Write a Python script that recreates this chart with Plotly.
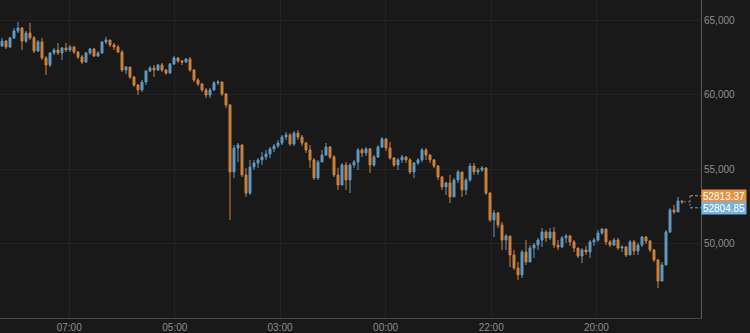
import plotly.graph_objects as go

# ---- data ----
first_open = 63300
close = [63630, 63230, 63840, 64310, 64510, 63630, 64170, 63840, 62960, 63570,
         62490, 62020, 62830, 63030, 62830, 63160, 63030, 63230, 62890, 62560,
         62220, 62830, 63100, 62620, 62830, 63570, 63700, 63370, 63230, 62890,
         61680, 61880, 61210, 60670, 60340, 60870, 61610, 61820, 61680, 62020,
         61680, 61480, 62090, 62490, 62290, 62220, 62420, 61680, 61010, 60740,
         60340, 60000, 60340, 60810, 60870, 60070, 59330, 54820, 56430, 56630,
         54620, 53400, 55150, 55420, 55630, 55830, 56030, 56370, 56570, 56770,
         57170, 57310, 56700, 57440, 57170, 56770, 56300, 55630, 54410, 55490,
         55960, 56500, 55830, 54620, 53940, 55290, 54280, 55290, 55490, 56300,
         56100, 56370, 55290, 55830, 56500, 57040, 56430, 55760, 55290, 55630,
         55830, 55630, 54820, 55420, 55630, 56300, 55960, 55630, 55220, 54480,
         53810, 54080, 53140, 54280, 54820, 53610, 54280, 55220, 54820, 54950,
         55090, 53400, 51590, 52060, 51250, 50240, 50510, 49230, 48360, 47890,
         49430, 48760, 49700, 49900, 50240, 50780, 50380, 50780, 49900, 49770,
         50380, 50510, 50110, 49700, 49160, 49570, 49430, 50110, 50240, 50710,
         50980, 50110, 49900, 50240, 49700, 49770, 49230, 50110, 49500, 49900,
         50440, 50170, 49570, 48900, 47480, 48560, 50780, 52260, 52130, 52870,
         52810]
high = [63840, 63700, 63900, 64510, 64910, 64580, 64310, 64850, 63970, 63700,
        63840, 62620, 62890, 63160, 63500, 63230, 63500, 63370, 63300, 62960,
        62690, 62890, 63160, 63160, 62960, 63630, 63900, 63700, 63500, 63370,
        63030, 61950, 61820, 61280, 60740, 61010, 61680, 61950, 62020, 62090,
        62150, 61750, 62150, 62620, 62560, 62360, 62490, 62560, 61750, 61140,
        60810, 60470, 60470, 60940, 61010, 60940, 60130, 59390, 56630, 56770,
        56700, 55090, 55630, 55630, 55760, 56160, 56300, 56500, 56700, 56970,
        57310, 57510, 57440, 57580, 57640, 57310, 56840, 56630, 55760, 55630,
        56300, 56770, 56570, 55960, 55090, 55420, 55490, 55420, 55630, 56430,
        56430, 56500, 56430, 55960, 56630, 57170, 57110, 56840, 55830, 55760,
        55960, 55890, 55760, 55490, 55760, 56430, 56430, 56030, 55690, 55290,
        54550, 54150, 54620, 54410, 54950, 54820, 54410, 55420, 55420, 55090,
        55220, 55150, 53470, 52260, 52130, 51450, 50640, 50510, 49570, 48760,
        49570, 50240, 49900, 50040, 50380, 51050, 50910, 51050, 51120, 50240,
        50510, 50640, 50580, 50240, 49700, 49700, 49840, 50240, 50380, 50910,
        51050, 50910, 50240, 50380, 50380, 49900, 49840, 50240, 50240, 50040,
        50510, 50510, 50240, 49640, 48960, 48760, 50910, 52400, 52600, 53140,
        52870]
low = [63230, 63100, 63160, 63770, 64170, 63030, 63500, 63700, 62830, 62890,
       62360, 61350, 61880, 62690, 62690, 62360, 62890, 62890, 62760, 62420,
       62090, 62150, 62690, 62560, 62560, 62760, 63430, 63230, 63030, 62830,
       61550, 61410, 61080, 60540, 60000, 60200, 60670, 61550, 61210, 61610,
       61550, 61350, 61410, 62020, 62150, 62020, 62150, 61550, 60870, 60610,
       60200, 59800, 59800, 60270, 60670, 59930, 59130, 51590, 54410, 55490,
       54480, 53140, 53270, 54950, 55090, 55290, 55630, 55760, 56160, 56430,
       56630, 56970, 56570, 56570, 56970, 56570, 56100, 55090, 54280, 54280,
       55490, 55890, 55690, 54480, 53610, 54150, 53610, 53400, 55090, 54950,
       55830, 55890, 54750, 55150, 55760, 56430, 56230, 55630, 55150, 54950,
       55420, 55420, 54680, 54410, 55290, 55490, 55630, 55420, 55090, 54280,
       53610, 53270, 52730, 53400, 54080, 53140, 53270, 54150, 54620, 54620,
       54820, 53270, 51450, 50440, 51050, 49570, 49570, 48420, 48220, 47550,
       47680, 48560, 48760, 49030, 49570, 49770, 50110, 50240, 49700, 49570,
       49700, 50040, 49840, 49430, 49030, 48690, 49230, 49030, 49840, 50110,
       50580, 49900, 49770, 49840, 49570, 49430, 49100, 49300, 49230, 49230,
       49770, 49970, 49430, 48760, 47010, 47550, 48630, 50710, 51990, 52130,
       52660]
open_ = [first_open] + close[:-1]
idx = list(range(len(close)))

tick_pos = [16.8, 43.2, 69.5, 95.9, 122.3, 148.6]
tick_text = ["07:00", "05:00", "03:00", "00:00", "22:00", "20:00"]
y_ticks = [50000, 55000, 60000, 65000]

ask_price = 52813.37
bid_price = 52804.85

ORANGE = "#e28f3e"
BLUE = "#68a8d4"
BG = "#19191a"

fig = go.Figure()
fig.add_trace(go.Candlestick(
    x=idx, open=open_, high=high, low=low, close=close,
    increasing=dict(line=dict(color=BLUE, width=1), fillcolor=BLUE),
    decreasing=dict(line=dict(color=ORANGE, width=1), fillcolor=ORANGE),
    whiskerwidth=0, opacity=0.9, hoverinfo="skip", showlegend=False,
))

last_i = idx[-1]
last_c = close[-1]
common = dict(xref="x", yref="y", xsizemode="pixel", ysizemode="pixel",
              xanchor=last_i, yanchor=last_c)
fig.add_shape(type="line", x0=2, x1=8, y0=0, y1=0,
              line=dict(color="#9a7a5a", width=1, dash="2px,2px"), **common)
fig.add_shape(type="line", x0=8, x1=8, y0=6, y1=-6,
              line=dict(color="#7a8a9a", width=1, dash="2px,2px"), **common)
fig.add_shape(type="line", x0=8, x1=19, y0=6, y1=6,
              line=dict(color=ORANGE, width=1, dash="3px,2px"), **common)
fig.add_shape(type="line", x0=8, x1=19, y0=-6, y1=-6,
              line=dict(color=BLUE, width=1, dash="3px,2px"), **common)

for val, col, shift in [(ask_price, "#e8913c", 6), (bid_price, "#76b2da", -6)]:
    fig.add_annotation(
        x=1, xref="paper", xanchor="left", y=last_c, yref="y", yshift=shift,
        text=f"{val:.2f}", showarrow=False, bgcolor=col, borderpad=0,
        width=44, height=12, align="center",
        font=dict(family="Liberation Sans, Arial, sans-serif", size=10, color="#ffffff"),
    )

fig.update_layout(
    width=750, height=333,
    margin=dict(l=0, r=49, t=0, b=15),
    paper_bgcolor=BG, plot_bgcolor=BG,
    font=dict(family="Liberation Sans, Arial, sans-serif", size=10, color="#8e8e8e"),
    showlegend=False,
    xaxis=dict(
        range=[-0.5, 174.75], rangeslider=dict(visible=False),
        tickmode="array", tickvals=tick_pos, ticktext=tick_text,
        showgrid=True, gridcolor="#232323", gridwidth=1,
        zeroline=False, showline=True, linecolor="#4a4a4a", linewidth=1,
        mirror=False, ticks="", tickfont=dict(size=10, color="#8e8e8e"),
        fixedrange=True,
    ),
    yaxis=dict(
        side="right", range=[44990, 66393],
        tickmode="array", tickvals=y_ticks, tickformat=",",
        showgrid=True, gridcolor="#232323", gridwidth=1,
        zeroline=False, showline=True, linecolor="#5a5a5a", linewidth=1,
        ticks="", tickfont=dict(size=10, color="#8e8e8e"),
        fixedrange=True,
    ),
)

fig.write_html("out.html")
